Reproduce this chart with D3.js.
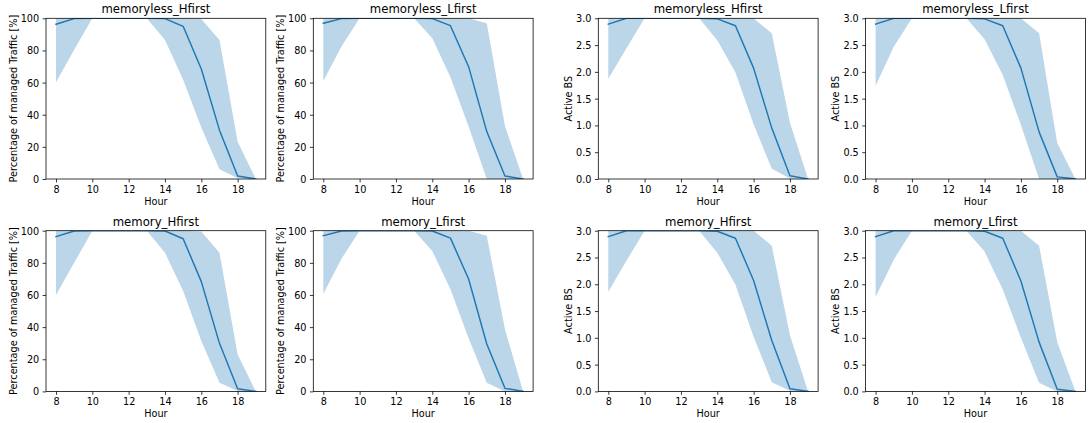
<!DOCTYPE html>
<html>
<head>
<meta charset="utf-8">
<script src="https://cdn.jsdelivr.net/npm/d3@7"></script>
<style>
  body { margin: 0; background: #fff; }
  svg { display: block; font-family: "DejaVu Sans", sans-serif; }
</style>
</head>
<body>
<svg id="fig" width="1092" height="423"></svg>
<script>
// --- data (hours 8..19) ---
const hours = [8, 9, 10, 11, 12, 13, 14, 15, 16, 17, 18, 19];
const xTicks = [8, 10, 12, 14, 16, 18];
const trafficTicks = [0, 20, 40, 60, 80, 100];
const bsTicks = [0, 0.5, 1.0, 1.5, 2.0, 2.5, 3.0];

// memoryless_Hfirst, traffic
const mlHTrafficMean  = [96.3, 99.8, 100, 100, 100, 100, 99.8, 95.0, 68.4, 30.4, 1.9, 0];
const mlHTrafficLow   = [60.2, 80.5, 100, 100, 100, 100, 86.5, 61.8, 32.0, 6.0, 0.4, 0];
const mlHTrafficHigh  = [100, 100, 100, 100, 100, 100, 100, 100, 99.5, 86.5, 23.2, 0];
// memoryless_Lfirst, traffic
const mlLTrafficMean  = [96.9, 99.8, 100, 100, 100, 100, 99.8, 95.4, 69.9, 29.5, 1.9, 0];
const mlLTrafficLow   = [61.0, 82.4, 100, 100, 100, 100, 87.6, 63.3, 32.6, 0, 0, 0];
const mlLTrafficHigh  = [100, 100, 100, 100, 100, 100, 100, 100, 100, 96.9, 33.0, 0];
// memoryless_Hfirst, active BS
const mlHBsMean = [2.89, 3.0, 3.0, 3.0, 3.0, 3.0, 2.99, 2.86, 2.07, 0.95, 0.06, 0];
const mlHBsLow  = [1.87, 2.44, 3.0, 3.0, 3.0, 3.0, 2.59, 1.99, 1.02, 0.19, 0.01, 0];
const mlHBsHigh = [3.0, 3.0, 3.0, 3.0, 3.0, 3.0, 3.0, 3.0, 3.0, 2.72, 1.05, 0];
// memoryless_Lfirst, active BS
const mlLBsMean = [2.89, 3.0, 3.0, 3.0, 3.0, 3.0, 2.99, 2.86, 2.07, 0.88, 0.04, 0];
const mlLBsLow  = [1.74, 2.47, 3.0, 3.0, 3.0, 3.0, 2.61, 1.94, 1.01, 0, 0, 0];
const mlLBsHigh = [3.0, 3.0, 3.0, 3.0, 3.0, 3.0, 3.0, 3.0, 3.0, 2.72, 0.67, 0];
// memory_Hfirst, traffic
const mHTrafficMean  = [96.3, 99.8, 100, 100, 100, 100, 99.8, 95.0, 68.3, 29.9, 1.7, 0];
const mHTrafficLow   = [60.0, 80.0, 100, 100, 100, 100, 86.3, 62.4, 31.3, 5.4, 0.2, 0];
const mHTrafficHigh  = [100, 100, 100, 100, 100, 100, 100, 100, 99.5, 86.3, 23.0, 0];
// memory_Lfirst, traffic
const mLTrafficMean  = [96.9, 99.8, 100, 100, 100, 100, 99.8, 95.4, 69.9, 29.5, 1.9, 0];
const mLTrafficLow   = [60.6, 82.5, 100, 100, 100, 100, 87.4, 63.6, 33.0, 5.4, 0, 0];
const mLTrafficHigh  = [100, 100, 100, 100, 100, 100, 100, 100, 100, 96.9, 38.6, 0];
// memory_Hfirst, active BS
const mHBsMean = [2.89, 3.0, 3.0, 3.0, 3.0, 3.0, 2.99, 2.86, 2.07, 0.95, 0.05, 0];
const mHBsLow  = [1.86, 2.44, 3.0, 3.0, 3.0, 3.0, 2.59, 1.99, 1.02, 0.17, 0.01, 0];
const mHBsHigh = [3.0, 3.0, 3.0, 3.0, 3.0, 3.0, 3.0, 3.0, 3.0, 2.72, 1.05, 0];
// memory_Lfirst, active BS
const mLBsMean = [2.89, 3.0, 3.0, 3.0, 3.0, 3.0, 2.99, 2.86, 2.06, 0.92, 0.04, 0];
const mLBsLow  = [1.76, 2.46, 3.0, 3.0, 3.0, 3.0, 2.61, 1.90, 1.00, 0.16, 0, 0];
const mLBsHigh = [3.0, 3.0, 3.0, 3.0, 3.0, 3.0, 3.0, 3.0, 3.0, 2.72, 0.92, 0];

const TRAFFIC_LABEL = "Percentage of managed Traffic [%]";
const BS_LABEL = "Active BS";

// --- layout ---
const W = 219.8, H = 160.7;
const colLefts = [46, 313.3, 598.3, 865.6];
const rowTops = [18.3, 230.7];
const BLUE = "#1f77b4";

const panels = [
  { title: "memoryless_Hfirst", row: 0, col: 0, kind: "traffic", mean: mlHTrafficMean, low: mlHTrafficLow, high: mlHTrafficHigh },
  { title: "memoryless_Lfirst", row: 0, col: 1, kind: "traffic", mean: mlLTrafficMean, low: mlLTrafficLow, high: mlLTrafficHigh },
  { title: "memoryless_Hfirst", row: 0, col: 2, kind: "bs", mean: mlHBsMean, low: mlHBsLow, high: mlHBsHigh },
  { title: "memoryless_Lfirst", row: 0, col: 3, kind: "bs", mean: mlLBsMean, low: mlLBsLow, high: mlLBsHigh },
  { title: "memory_Hfirst", row: 1, col: 0, kind: "traffic", mean: mHTrafficMean, low: mHTrafficLow, high: mHTrafficHigh },
  { title: "memory_Lfirst", row: 1, col: 1, kind: "traffic", mean: mLTrafficMean, low: mLTrafficLow, high: mLTrafficHigh },
  { title: "memory_Hfirst", row: 1, col: 2, kind: "bs", mean: mHBsMean, low: mHBsLow, high: mHBsHigh },
  { title: "memory_Lfirst", row: 1, col: 3, kind: "bs", mean: mLBsMean, low: mLBsLow, high: mLBsHigh }
];

const svg = d3.select("#fig");
const defs = svg.append("defs");
const FS = 9.7;

panels.forEach((p, i) => {
  const left = colLefts[p.col], top = rowTops[p.row];
  const g = svg.append("g").attr("transform", `translate(${left},${top})`);

  const x = d3.scaleLinear().domain([7.45, 19.55]).range([0, W]);
  const yMax = p.kind === "traffic" ? 100 : 3;
  const y = d3.scaleLinear().domain([0, yMax]).range([H, 0]);
  const yTicks = p.kind === "traffic" ? trafficTicks : bsTicks;

  defs.append("clipPath").attr("id", `clip${i}`)
    .append("rect").attr("width", W).attr("height", H);

  const plot = g.append("g").attr("clip-path", `url(#clip${i})`);

  const area = d3.area()
    .x((d, j) => x(hours[j]))
    .y0((d, j) => y(p.low[j]))
    .y1((d, j) => y(p.high[j]));
  plot.append("path").datum(p.mean).attr("d", area)
    .attr("fill", BLUE).attr("fill-opacity", 0.3);

  const line = d3.line().x((d, j) => x(hours[j])).y(d => y(d));
  plot.append("path").datum(p.mean).attr("d", line)
    .attr("fill", "none").attr("stroke", BLUE).attr("stroke-width", 1.46)
    .attr("stroke-linejoin", "round").attr("stroke-linecap", "square");

  // axes
  const xAxis = d3.axisBottom(x).tickValues(xTicks).tickSize(3.4).tickPadding(3.4)
    .tickFormat(d3.format("d"));
  const yAxis = d3.axisLeft(y).tickValues(yTicks).tickSize(3.4).tickPadding(3.4)
    .tickFormat(p.kind === "traffic" ? d3.format("d") : d3.format(".1f"));

  const gx = g.append("g").attr("transform", `translate(0,${H})`).call(xAxis);
  const gy = g.append("g").call(yAxis);
  [gx, gy].forEach(a => {
    a.select(".domain").remove();
    a.selectAll(".tick line").attr("stroke", "#000").attr("stroke-width", 0.78);
    a.selectAll(".tick text").attr("fill", "#000").attr("font-size", FS)
      .attr("font-family", "DejaVu Sans");
  });
  gx.selectAll(".tick text").attr("dy", "0.71em");
  gy.selectAll(".tick text").attr("dy", "0.36em");

  // spines
  g.append("rect").attr("width", W).attr("height", H)
    .attr("fill", "none").attr("stroke", "#000").attr("stroke-width", 0.78);

  // title
  g.append("text").attr("x", W / 2).attr("y", -5)
    .attr("text-anchor", "middle").attr("font-size", 11.7).attr("fill", "#000")
    .text(p.title);

  // x label
  g.append("text").attr("x", W / 2).attr("y", H + 26)
    .attr("text-anchor", "middle").attr("font-size", FS).attr("fill", "#000")
    .text("Hour");

  // y label
  let maxW = 0;
  gy.selectAll(".tick text").each(function () {
    maxW = Math.max(maxW, this.getComputedTextLength());
  });
  const lx = -6.8 - maxW - 3.9;
  g.append("text")
    .attr("transform", `translate(${lx},${H / 2}) rotate(-90)`)
    .attr("text-anchor", "middle").attr("font-size", FS).attr("fill", "#000")
    .text(p.kind === "traffic" ? TRAFFIC_LABEL : BS_LABEL);
});
</script>
</body>
</html>
